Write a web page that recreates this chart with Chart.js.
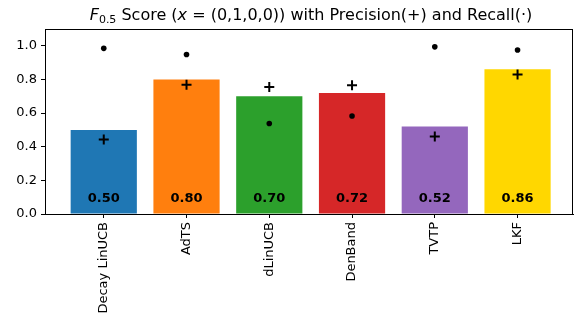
<!DOCTYPE html>
<html>
<head>
<meta charset="utf-8">
<script src="https://cdn.jsdelivr.net/npm/chart.js@4.4.1/dist/chart.umd.min.js"></script>
<style>
  html, body { margin: 0; padding: 0; background: #fff; }
  #wrap { width: 574px; height: 322px; }
</style>
</head>
<body>
<div id="wrap"><canvas id="f05Chart" width="574" height="322"></canvas></div>
<script>
// data
var methods = ['Decay LinUCB', 'AdTS', 'dLinUCB', 'DenBand', 'TVTP', 'LKF'];
var f05 = [0.50, 0.80, 0.70, 0.72, 0.52, 0.86];
var precision = [0.443, 0.769, 0.755, 0.765, 0.461, 0.830];
var recall = [0.985, 0.948, 0.538, 0.583, 0.994, 0.975];
var barColors = ['#1f77b4', '#ff7f0e', '#2ca02c', '#d62728', '#9467bd', '#ffd700'];
var yTicks = [0, 0.2, 0.4, 0.6, 0.8, 1.0];

var FONT = '"DejaVu Sans", sans-serif';

function pts(arr) {
    return arr.map(function(v, i) { return { x: i, y: v }; });
}

// title with italic F, subscript and math bits
var titlePlugin = {
    id: 'mplTitle',
    afterDraw: function(chart) {
        var ctx = chart.ctx;
        var area = chart.chartArea;
        var parts = [
            { t: 'F', f: 'italic 16px ' + FONT, dy: 0 },
            { t: '0.5', f: '11px ' + FONT, dy: 3 },
            { t: ' Score (', f: '16px ' + FONT, dy: 0 },
            { t: 'x', f: 'italic 16px ' + FONT, dy: 0 },
            { t: ' = (0,1,0,0)) with Precision(+) and Recall(\u00B7)', f: '16px ' + FONT, dy: 0 }
        ];
        ctx.save();
        var total = 0;
        parts.forEach(function(p) { ctx.font = p.f; p.w = ctx.measureText(p.t).width; total += p.w; });
        var x = (area.left + area.right) / 2 - total / 2 + 2;
        ctx.fillStyle = '#000';
        ctx.textBaseline = 'alphabetic';
        ctx.textAlign = 'left';
        parts.forEach(function(p) {
            ctx.font = p.f;
            ctx.fillText(p.t, x, 20 + p.dy);
            x += p.w;
        });
        ctx.restore();
    }
};

// full box around the axes + bold value labels inside bars
var boxPlugin = {
    id: 'boxAndLabels',
    afterDatasetsDraw: function(chart) {
        var ctx = chart.ctx;
        var a = chart.chartArea;
        var xs = chart.scales.x, ys = chart.scales.y;
        ctx.save();
        ctx.font = 'bold 13px ' + FONT;
        ctx.fillStyle = '#000';
        ctx.textAlign = 'center';
        ctx.textBaseline = 'alphabetic';
        f05.forEach(function(v, i) {
            ctx.fillText(v.toFixed(2), xs.getPixelForValue(i), ys.getPixelForValue(0.07));
        });
        ctx.strokeStyle = '#000';
        ctx.lineWidth = 1;
        ctx.strokeRect(Math.round(a.left) + 0.5, Math.round(a.top) + 0.5,
            Math.round(a.right - a.left) - 1, Math.round(a.bottom - a.top));
        ctx.restore();
    }
};

new Chart(document.getElementById('f05Chart'), {
    type: 'bar',
    data: {
        datasets: [{
            label: 'F0.5',
            data: pts(f05),
            backgroundColor: barColors,
            borderWidth: 0,
            barPercentage: 0.8,
            categoryPercentage: 1.0,
            order: 3
        }, {
            type: 'line',
            label: 'Precision',
            data: pts(precision),
            showLine: false,
            pointStyle: 'cross',
            pointRadius: 5,
            pointBorderWidth: 2,
            borderColor: '#000',
            backgroundColor: '#000',
            order: 1
        }, {
            type: 'line',
            label: 'Recall',
            data: pts(recall),
            showLine: false,
            pointStyle: 'circle',
            pointRadius: 2.8,
            pointBorderWidth: 0,
            borderColor: '#000',
            backgroundColor: '#000',
            order: 2
        }]
    },
    options: {
        responsive: false,
        animation: false,
        layout: { autoPadding: false, padding: { top: 29, right: 1, left: 0, bottom: 0 } },
        plugins: {
            legend: { display: false },
            tooltip: { enabled: false },
            title: { display: false }
        },
        scales: {
            x: {
                type: 'linear',
                min: -0.71,
                max: 5.67,
                offset: false,
                afterBuildTicks: function(s) {
                    s.ticks = methods.map(function(m, i) { return { value: i }; });
                },
                afterFit: function(s) {
                    s.height = 108;
                    s.paddingLeft = 0;
                    s.paddingRight = 0;
                },
                ticks: {
                    callback: function(v) { return methods[v]; },
                    minRotation: 90,
                    maxRotation: 90,
                    autoSkip: false,
                    padding: 4,
                    color: '#000',
                    font: { family: FONT, size: 13 }
                },
                grid: {
                    offset: false,
                    drawOnChartArea: false,
                    tickLength: 4,
                    color: '#000',
                    tickColor: '#000'
                },
                border: { display: true, color: '#000', width: 1 }
            },
            y: {
                min: 0,
                max: 1.1,
                afterBuildTicks: function(s) {
                    s.ticks = yTicks.map(function(v) { return { value: v }; });
                },
                afterFit: function(s) { s.width = 45; },
                ticks: {
                    callback: function(v) { return v.toFixed(1); },
                    padding: 4,
                    color: '#000',
                    font: { family: FONT, size: 13 }
                },
                grid: {
                    drawOnChartArea: false,
                    tickLength: 4,
                    color: '#000',
                    tickColor: '#000'
                },
                border: { display: true, color: '#000', width: 1 }
            }
        }
    },
    plugins: [titlePlugin, boxPlugin]
});
</script>
</body>
</html>
